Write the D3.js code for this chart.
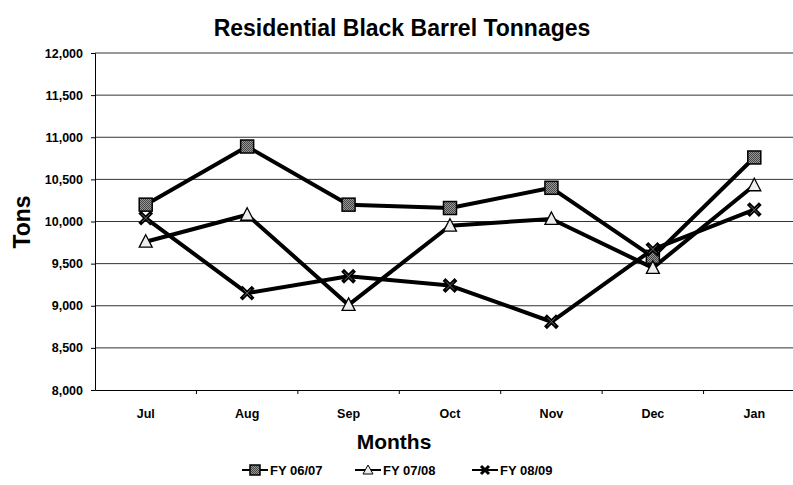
<!DOCTYPE html>
<html>
<head>
<meta charset="utf-8">
<script src="https://cdn.jsdelivr.net/npm/d3@7"></script>
<style>
  body { margin: 0; background: #fff; }
  text { font-family: "Liberation Sans", Arial, sans-serif; font-weight: bold; fill: #000; }
</style>
</head>
<body>
<div id="chart"></div>
<script>
// data
const months = ["Jul", "Aug", "Sep", "Oct", "Nov", "Dec", "Jan"];
const fy0607 = [10200, 10890, 10200, 10160, 10400, 9580, 10760];
const fy0708 = [9760, 10080, 9010, 9950, 10030, 9450, 10430];
const fy0809 = [10040, 9150, 9350, 9240, 8810, 9670, 10140];
const yTicks = [8000, 8500, 9000, 9500, 10000, 10500, 11000, 11500, 12000];

const series = [
  {name: "FY 06/07", values: fy0607, marker: "square"},
  {name: "FY 07/08", values: fy0708, marker: "triangle"},
  {name: "FY 08/09", values: fy0809, marker: "cross"}
];

const W = 793, H = 485;
const plotL = 95, plotR = 805, plotT = 53, plotB = 390;

const svg = d3.select("#chart").append("svg")
  .attr("width", W).attr("height", H);

// dotted fill for the squares
const defs = svg.append("defs");
const pat = defs.append("pattern").attr("id", "dots")
  .attr("width", 2).attr("height", 2).attr("patternUnits", "userSpaceOnUse");
pat.append("rect").attr("width", 2).attr("height", 2).attr("fill", "#999");
pat.append("rect").attr("width", 1).attr("height", 1).attr("fill", "#444");
pat.append("rect").attr("x", 1).attr("y", 1).attr("width", 1).attr("height", 1).attr("fill", "#444");

const x = d3.scaleBand().domain(months).range([plotL, plotR]);
const y = d3.scaleLinear().domain([8000, 12000]).range([plotB, plotT]);
const cx = m => x(m) + x.bandwidth() / 2;

// gridlines
svg.append("g")
  .selectAll("line")
  .data(yTicks.slice(1))
  .enter()
  .append("line")
  .attr("x1", plotL).attr("x2", plotR)
  .attr("y1", d => y(d)).attr("y2", d => y(d))
  .attr("stroke", "#333").attr("stroke-width", 1);

// y axis
const yAxis = svg.append("g")
  .attr("transform", `translate(${plotL},0)`)
  .call(d3.axisLeft(y).tickValues(yTicks).tickSize(4).tickPadding(8).tickFormat(d3.format(",")));
yAxis.select(".domain").attr("stroke", "#000");
yAxis.selectAll(".tick line").attr("stroke", "#000");
yAxis.selectAll("text").attr("font-size", 12.5).style("font-family", "Liberation Sans, Arial, sans-serif").style("font-weight", "bold");

// x axis: ticks between categories
const xAxis = svg.append("g")
  .attr("transform", `translate(0,${plotB})`)
  .call(d3.axisBottom(x).tickSize(0).tickPadding(19));
xAxis.select(".domain").attr("stroke", "#000");
xAxis.selectAll("text").attr("font-size", 12.5).style("font-family", "Liberation Sans, Arial, sans-serif").style("font-weight", "bold");
xAxis.selectAll(".sep")
  .data(months.slice(1))
  .enter()
  .append("line")
  .attr("x1", d => x(d)).attr("x2", d => x(d))
  .attr("y1", 0).attr("y2", 4)
  .attr("stroke", "#000");

// lines
const line = d3.line().x((d, i) => cx(months[i])).y(d => y(d));
svg.append("g")
  .selectAll("path")
  .data(series)
  .enter()
  .append("path")
  .attr("d", d => line(d.values))
  .attr("fill", "none")
  .attr("stroke", "#000")
  .attr("stroke-width", 4)
  .attr("stroke-linejoin", "round");

function drawMarker(g, type, px, py) {
  if (type === "square") {
    g.append("rect").attr("x", px - 6.5).attr("y", py - 6.5).attr("width", 13).attr("height", 13)
      .attr("fill", "url(#dots)").attr("stroke", "#000").attr("stroke-width", 1.5);
  } else if (type === "triangle") {
    g.append("path").attr("d", `M${px},${py - 7}L${px + 6.5},${py + 5.5}L${px - 6.5},${py + 5.5}Z`)
      .attr("fill", "#eee").attr("stroke", "#000").attr("stroke-width", 1.3);
  } else {
    g.append("path").attr("d", `M${px - 6},${py - 6}L${px + 6},${py + 6}M${px + 6},${py - 6}L${px - 6},${py + 6}`)
      .attr("stroke", "#000").attr("stroke-width", 4);
    g.append("path").attr("d", `M${px - 4},${py - 4}L${px + 4},${py + 4}M${px + 4},${py - 4}L${px - 4},${py + 4}`)
      .attr("stroke", "#666").attr("stroke-width", 1);
  }
}

const mk = svg.append("g");
series.forEach(s => {
  s.values.forEach((v, i) => drawMarker(mk, s.marker, cx(months[i]), y(v)));
});

// titles
svg.append("text").attr("x", 402).attr("y", 36).attr("text-anchor", "middle")
  .attr("font-size", 23).text("Residential Black Barrel Tonnages");
svg.append("text").attr("x", 394).attr("y", 449).attr("text-anchor", "middle")
  .attr("font-size", 21).text("Months");
svg.append("text").attr("transform", "translate(30,222) rotate(-90)").attr("text-anchor", "middle")
  .attr("font-size", 23).text("Tons");

// legend
const legX = [242, 355, 472];
const leg = svg.append("g");
series.forEach((s, i) => {
  const lx = legX[i], ly = 470;
  leg.append("line").attr("x1", lx).attr("x2", lx + 26).attr("y1", ly).attr("y2", ly)
    .attr("stroke", "#000").attr("stroke-width", 2);
  const g = leg.append("g");
  if (s.marker === "square") {
    g.append("rect").attr("x", lx + 8).attr("y", ly - 5).attr("width", 10).attr("height", 10)
      .attr("fill", "url(#dots)").attr("stroke", "#000").attr("stroke-width", 1.5);
  } else if (s.marker === "triangle") {
    g.append("path").attr("d", `M${lx + 13},${ly - 5}L${lx + 18},${ly + 4}L${lx + 8},${ly + 4}Z`)
      .attr("fill", "#eee").attr("stroke", "#000").attr("stroke-width", 1);
  } else {
    g.append("path").attr("d", `M${lx + 9},${ly - 4}L${lx + 17},${ly + 4}M${lx + 17},${ly - 4}L${lx + 9},${ly + 4}`)
      .attr("stroke", "#000").attr("stroke-width", 3);
  }
  leg.append("text").attr("x", lx + 28).attr("y", ly + 5).attr("font-size", 13).text(s.name);
});
</script>
</body>
</html>
